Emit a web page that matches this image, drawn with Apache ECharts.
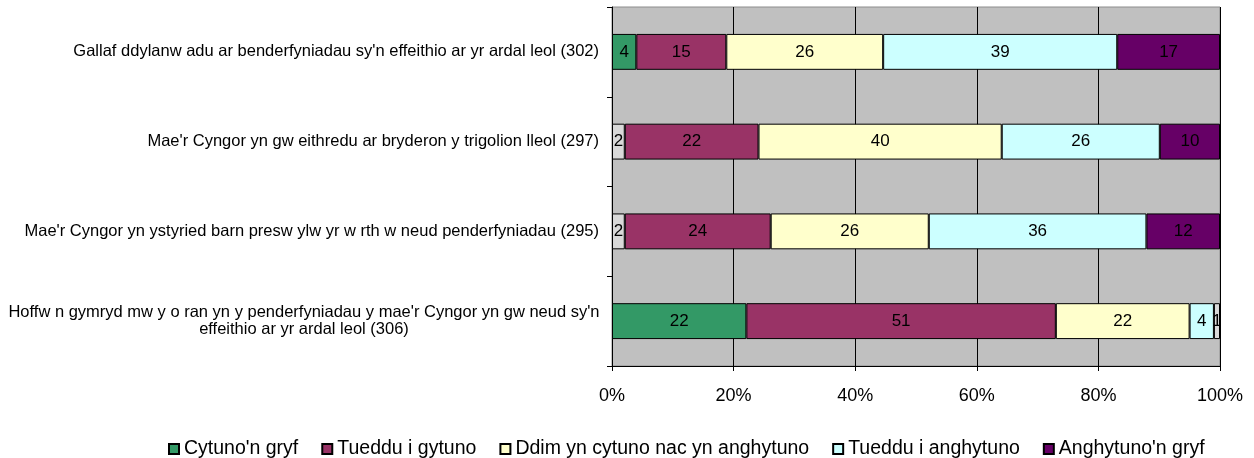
<!DOCTYPE html>
<html>
<head>
<meta charset="utf-8">
<style>
html, body { margin: 0; padding: 0; background: #fff; }
#main { width: 1254px; height: 458px; }
</style>
<script src="https://cdn.jsdelivr.net/npm/echarts@6/dist/echarts.min.js"></script>
</head>
<body>
<div id="main"></div>
<script>
// categories, top to bottom
var categories = [
  "Gallaf ddylanw adu ar benderfyniadau sy'n effeithio ar yr ardal leol (302)",
  "Mae'r Cyngor yn gw eithredu ar bryderon y trigolion lleol (297)",
  "Mae'r Cyngor yn ystyried barn presw ylw yr w rth w neud penderfyniadau (295)",
  "Hoffw n gymryd mw y o ran yn y penderfyniadau y mae'r Cyngor yn gw neud sy'n\neffeithio ar yr ardal leol (306)"
];
var seriesNames = ["Cytuno'n gryf", "Tueddu i gytuno", "Ddim yn cytuno nac yn anghytuno", "Tueddu i anghytuno", "Anghytuno'n gryf"];
// percentages (labels are rounded)
var cytunoGryf = [4.0, 2.1, 2.1, 22.1];
var tuedduGytuno = [14.8, 22.0, 24.0, 50.9];
var ddim = [25.8, 40.0, 26.0, 22.0];
var tuedduAnghytuno = [38.5, 26.0, 35.8, 4.0];
var anghytunoGryf = [16.9, 9.9, 12.1, 1.0];
var xTicks = [0, 20, 40, 60, 80, 100];

var values = [cytunoGryf, tuedduGytuno, ddim, tuedduAnghytuno, anghytunoGryf];
var colors = ['#339966', '#993366', '#FFFFCC', '#CCFFFF', '#660066'];
// thin segments that show up grey in the original
var greyCells = [[0, 1], [0, 2], [4, 3]];

var FONT = 'Liberation Sans, Arial, sans-serif';

function isGrey(s, i) {
  for (var k = 0; k < greyCells.length; k++) {
    if (greyCells[k][0] === s && greyCells[k][1] === i) return true;
  }
  return false;
}

var series = [];
for (var s = 0; s < values.length; s++) {
  var data = [];
  for (var i = 0; i < values[s].length; i++) {
    var item = { value: values[s][i] };
    if (isGrey(s, i)) item.itemStyle = { color: '#d9d9d9' };
    data.push(item);
  }
  series.push({
    name: seriesNames[s],
    type: 'bar',
    stack: 'total',
    barWidth: '40%',
    itemStyle: { color: colors[s], borderColor: '#000', borderWidth: 1 },
    label: {
      show: true,
      position: 'inside',
      color: '#000',
      fontFamily: FONT,
      fontSize: 17,
      formatter: function (p) { return Math.round(p.value); }
    },
    emphasis: { disabled: true },
    data: data
  });
}

var chart = echarts.init(document.getElementById('main'));
chart.setOption({
  animation: false,
  color: colors,
  grid: {
    left: 612, right: 34, top: 7, bottom: 92,
    show: true, backgroundColor: '#C0C0C0', borderColor: '#8c8c8c', borderWidth: 1
  },
  legend: {
    top: 434,
    left: 163,
    icon: 'rect',
    itemWidth: 10,
    itemHeight: 10,
    itemGap: 23,
    textStyle: { fontFamily: FONT, fontSize: 19.5, color: '#000' },
    data: seriesNames
  },
  xAxis: {
    type: 'value',
    min: xTicks[0],
    max: xTicks[xTicks.length - 1],
    interval: 20,
    axisLine: { show: true, lineStyle: { color: '#000', width: 1 } },
    axisTick: { show: true, length: 5, lineStyle: { color: '#000' } },
    splitLine: { show: true, lineStyle: { color: '#000', width: 1 } },
    axisLabel: { formatter: '{value}%', margin: 21, color: '#000', fontFamily: FONT, fontSize: 18 }
  },
  yAxis: {
    type: 'category',
    inverse: true,
    data: categories,
    axisLine: { show: true, lineStyle: { color: '#000', width: 1 } },
    axisTick: { show: true, length: 5, lineStyle: { color: '#000' } },
    splitLine: { show: false },
    axisLabel: {
      margin: 13,
      color: '#000',
      fontFamily: FONT,
      fontSize: 16.5,
      lineHeight: 17,
      formatter: function (v) {
        if (v.indexOf('\n') < 0) return v;
        return v.split('\n').map(function (t) { return '{c|' + t + '}'; }).join('\n');
      },
      rich: {
        c: { width: 590, align: 'center', fontFamily: FONT, fontSize: 16.5, lineHeight: 17, color: '#000' }
      }
    }
  },
  series: series
});
</script>
</body>
</html>
